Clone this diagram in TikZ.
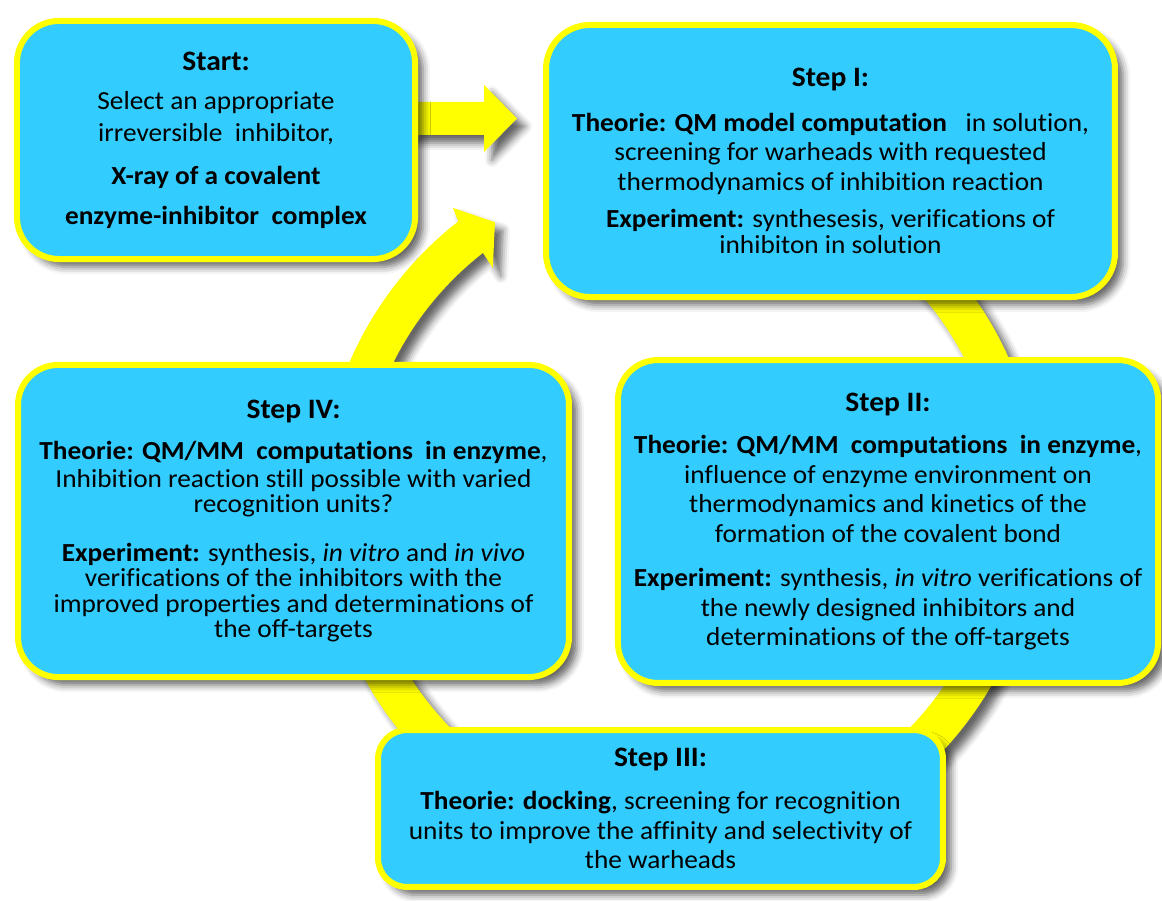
\documentclass[tikz,border=0pt]{standalone}
\usepackage{fontspec}
\setmainfont{Carlito}[Ligatures={NoCommon,NoContextual}, FakeStretch=1.05]
\usetikzlibrary{calc,backgrounds,shadows.blur}
\definecolor{boxcyan}{HTML}{33CCFF}
\definecolor{ringyellow}{HTML}{FFFF00}
\newcommand{\steptitle}[1]{{\fontsize{20}{24}\selectfont\bfseries #1}}

\tikzset{
  softshadow/.style={blur shadow={shadow xshift=0.2cm, shadow yshift=-0.2cm,
    shadow blur radius=0.18cm, shadow opacity=60}},
  stepbox/.style={draw=ringyellow, line width=0.15cm, fill=boxcyan, align=center,
    text=black, inner sep=0pt, font=\fontsize{18.5}{21}\selectfont, softshadow},
  yarrow/.style={fill=ringyellow, softshadow}
}

\begin{document}
\begin{tikzpicture}[x=0.025cm, y=0.025cm]
\useasboundingbox (0,0) rectangle (1162,900);

% cycle arrow behind the boxes
\begin{scope}[shift={(680,395)}]
\fill[yarrow] (100:360) arc[start angle=100, end angle=-232, radius=360]
  -- (-232.6:374) -- (-236.8:338) -- (-231.7:302) -- (-232:320)
  arc[start angle=-232, end angle=100, radius=320] -- cycle;
\end{scope}

\node[stepbox, minimum width=9.95cm, minimum height=5.95cm, rounded corners=1.05cm]
  (start) at (216,760)
  {\steptitle{Start:}\\[0.25cm]
   Select an appropriate\\[0.05cm]
   irreversible~ inhibitor,\\[0.35cm]
   \textbf{X-ray of a covalent}\\[0.25cm]
   \textbf{enzyme-inhibitor~ complex}};

\node[stepbox, minimum width=14.22cm, minimum height=6.8cm, rounded corners=1.1cm]
  (step1) at (830.5,739)
  {\steptitle{Step I:}\\[0.37cm]
   \textbf{Theorie: QM model computation}~~ in solution,\\
   screening for warheads with requested\\
   thermodynamics of inhibition reaction\\[0.2cm]
   \textbf{Experiment:} synthesesis, verifications of\\[-0.1cm]
   inhibiton in solution};

\node[stepbox, minimum width=13.5cm, minimum height=8.07cm, rounded corners=1cm]
  (step2) at (888,378.5)
  {\steptitle{Step II:}\\[0.33cm]
   \textbf{Theorie: QM/MM~ computations~ in enzyme},\\
   influence of enzyme environment on\\
   thermodynamics and kinetics of the\\
   formation of the covalent bond\\[0.37cm]
   \textbf{Experiment:} synthesis, \textit{in vitro} verifications of\\
   the newly designed inhibitors and\\
   determinations of the off-targets};

\node[stepbox, minimum width=14.12cm, minimum height=3.92cm, rounded corners=0.72cm]
  (step3) at (660.5,91.5)
  {\steptitle{Step III:}\\[0.35cm]
   \textbf{Theorie: docking}, screening for recognition\\
   units to improve the affinity and selectivity of\\
   the warheads};

\node[stepbox, minimum width=13.77cm, minimum height=7.8cm, rounded corners=1cm,
  font=\fontsize{18.5}{18}\selectfont]
  (step4) at (293.5,379)
  {\steptitle{Step IV:}\\[0.4cm]
   \textbf{Theorie: QM/MM~ computations~ in enzyme},\\[0.05cm]
   Inhibition reaction still possible with varied\\
   recognition units?\\[0.6cm]
   \textbf{Experiment:} synthesis, \textit{in vitro} and \textit{in vivo}\\
   verifications of the inhibitors with the\\
   improved properties and determinations of\\
   the off-targets};

% straight arrow from the start box to step I
\coordinate (tipI) at ($(step1.west)+(-26,42.5)$);
\begin{scope}[on background layer]
\fill[yarrow] ($(start.east)+(-10,38)$) -- ($(tipI)+(-33,16.5)$)
  -- ($(tipI)+(-33,33.5)$) -- (tipI) -- ($(tipI)+(-33,-33.5)$)
  -- ($(tipI)+(-33,-16.5)$) -- ($(start.east)+(-10,5)$) -- cycle;
\end{scope}

\end{tikzpicture}
\end{document}
